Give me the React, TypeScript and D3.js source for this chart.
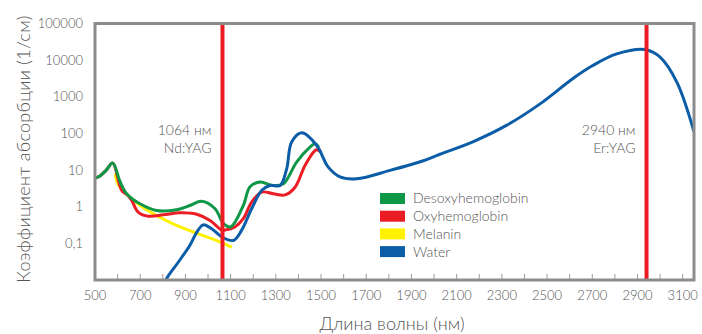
import React from "react";
import * as d3 from "d3";

// wavelengths (nm) and absorption coefficients (1/cm)
const waterNm = [800, 817, 869, 920, 950, 979, 1016, 1061, 1112, 1149, 1193, 1238, 1274, 1319, 1348, 1370, 1415, 1481, 1532, 1584, 1658, 1805, 1953, 2026, 2174, 2322, 2469, 2616, 2700, 2808, 2934, 3000, 3074, 3150];
const waterVal = [0.006, 0.011, 0.031, 0.089, 0.2, 0.32, 0.25, 0.15, 0.12, 0.23, 0.88, 2.8, 3.8, 3.8, 10.8, 58, 104, 47, 12, 6.5, 5.8, 9.8, 18, 27, 60, 168, 640, 3200, 7000, 14800, 19400, 12000, 2500, 110];

const desoxyNm = [500, 520, 550, 578, 611, 640, 699, 773, 861, 920, 972, 1031, 1068, 1100, 1156, 1186, 1230, 1289, 1333, 1392, 1451, 1473, 1490];
const desoxyVal = [6, 6.8, 10, 15.5, 4.8, 2.26, 1.2, 0.79, 0.83, 1.08, 1.4, 0.88, 0.35, 0.28, 1.08, 3.5, 4.7, 3.8, 4.2, 16.5, 42, 52, 42];

const oxyNm = [500, 520, 550, 578, 618, 647, 662, 692, 736, 802, 876, 950, 1009, 1061, 1075, 1119, 1156, 1193, 1238, 1289, 1341, 1385, 1429, 1473, 1481, 1500];
const oxyVal = [6, 6.8, 10, 15.5, 2.8, 2.0, 1.5, 0.7, 0.55, 0.6, 0.68, 0.62, 0.42, 0.23, 0.23, 0.28, 0.47, 1.34, 2.5, 2.26, 2.1, 3.4, 13.4, 34, 36, 31];

const melaninNm = [590, 603, 699, 846, 1053, 1105];
const melaninVal = [8, 4.0, 1.1, 0.34, 0.11, 0.078];

const laserNm = [1064, 2940];
const laserLabels = [["1064 нм", "Nd:YAG"], ["2940 нм", "Er:YAG"]];

const legendNames = ["Desoxyhemoglobin", "Oxyhemoglobin", "Melanin", "Water"];
const legendColors = ["#0f9748", "#ec1c24", "#fff200", "#0c5da8"];

const yTicks = [100000, 10000, 1000, 100, 10, 1, 0.1];
const yTickLabels = ["100000", "10000", "1000", "100", "10", "1", "0,1"];
const xTickLabels = [500, 700, 900, 1100, 1300, 1500, 1700, 1900, 2100, 2300, 2500, 2700, 2900, 3100];

class AbsorptionChart extends React.Component {
  componentDidMount() {
    this.createChart();
  }

  createChart() {
    var width = 702,
      height = 334;
    var left = 95,
      right = 694,
      top = 23.5,
      bottom = 280;
    var font = "Lato, 'Open Sans', sans-serif";
    var textColor = "#555";

    d3.select("#absorptionChart").selectAll("*").remove();

    var svg = d3
      .select("#absorptionChart")
      .append("svg")
      .attr("width", width)
      .attr("height", height)
      .style("display", "block")
      .style("font-family", font);

    var x = d3.scaleLinear().domain([500, 3150]).range([left, right]);
    var y = d3.scaleLog().domain([0.01, 100000]).range([bottom, top]);

    svg
      .append("clipPath")
      .attr("id", "plotClip")
      .append("rect")
      .attr("x", left)
      .attr("y", top)
      .attr("width", right - left)
      .attr("height", bottom - top);

    // small ticks on the bottom edge every 100 nm
    var minorTicks = d3.range(600, 3101, 100);
    svg
      .selectAll("minorTicks")
      .data(minorTicks)
      .enter()
      .append("line")
      .attr("x1", (d: any) => x(d))
      .attr("x2", (d: any) => x(d))
      .attr("y1", bottom)
      .attr("y2", bottom - 6)
      .attr("stroke", "#9a9a9a")
      .attr("stroke-width", 1);

    // x tick labels
    svg
      .selectAll("xLabels")
      .data(xTickLabels)
      .enter()
      .append("text")
      .attr("x", (d: any) => x(d))
      .attr("y", 300)
      .attr("text-anchor", "middle")
      .attr("fill", textColor)
      .style("font-size", "13px")
      .style("font-weight", 300)
      .text((d: any) => d);

    // y tick labels
    svg
      .selectAll("yLabels")
      .data(yTicks)
      .enter()
      .append("text")
      .attr("x", 83)
      .attr("y", (d: any) => y(d))
      .attr("dy", "0.35em")
      .attr("text-anchor", "end")
      .attr("fill", textColor)
      .style("font-size", "13px")
      .style("font-weight", 300)
      .text((d: any, i: number) => yTickLabels[i]);

    var line = d3
      .line()
      .x((d: any) => x(d[0]))
      .y((d: any) => y(d[1]))
      .curve(d3.curveCatmullRom.alpha(0.5));

    var series = [
      { nm: melaninNm, val: melaninVal, color: legendColors[2] },
      { nm: oxyNm, val: oxyVal, color: legendColors[1] },
      { nm: desoxyNm, val: desoxyVal, color: legendColors[0] },
      { nm: waterNm, val: waterVal, color: legendColors[3] },
    ];

    var plot = svg.append("g").attr("clip-path", "url(#plotClip)");
    series.forEach(function (s) {
      var pts = s.nm.map((n, i) => [n, s.val[i]]);
      plot
        .append("path")
        .attr("d", line(pts as any) as any)
        .attr("fill", "none")
        .attr("stroke", s.color)
        .attr("stroke-width", 3)
        .attr("stroke-linejoin", "round");
    });

    // laser lines
    svg
      .selectAll("laserLines")
      .data(laserNm)
      .enter()
      .append("line")
      .attr("x1", (d: any) => x(d))
      .attr("x2", (d: any) => x(d))
      .attr("y1", top)
      .attr("y2", bottom)
      .attr("stroke", "#ec1c24")
      .attr("stroke-width", 4);

    laserNm.forEach(function (n, i) {
      var t = svg
        .append("text")
        .attr("x", x(n) - 11)
        .attr("y", 135)
        .attr("text-anchor", "end")
        .attr("fill", textColor)
        .style("font-size", "14px")
        .style("font-weight", 300);
      t.append("tspan").attr("x", x(n) - 11).text(laserLabels[i][0]);
      t.append("tspan").attr("x", x(n) - 11).attr("dy", 18).text(laserLabels[i][1]);
    });

    // frame
    svg
      .append("rect")
      .attr("x", left)
      .attr("y", top)
      .attr("width", right - left)
      .attr("height", bottom - top)
      .attr("fill", "none")
      .attr("stroke", "#8c8c8c")
      .attr("stroke-width", 3);

    // legend
    var legend = svg.append("g").attr("transform", "translate(380,193)");
    legendNames.forEach(function (name, i) {
      legend
        .append("rect")
        .attr("x", 0)
        .attr("y", i * 17.7)
        .attr("width", 25)
        .attr("height", 11)
        .attr("fill", legendColors[i]);
      legend
        .append("text")
        .attr("x", 33)
        .attr("y", i * 17.7 + 5.5)
        .attr("dy", "0.35em")
        .attr("fill", textColor)
        .style("font-size", "14px")
        .style("font-weight", 300)
        .text(name);
    });

    // axis titles
    svg
      .append("text")
      .attr("transform", "translate(30," + 149 + ") rotate(-90)")
      .attr("text-anchor", "middle")
      .attr("fill", textColor)
      .style("font-size", "18px")
      .style("font-weight", 300)
      .style("letter-spacing", "0.3px")
      .text("Коэффициент абсорбции (1/см)");

    svg
      .append("text")
      .attr("x", 392)
      .attr("y", 330)
      .attr("text-anchor", "middle")
      .attr("fill", textColor)
      .style("font-size", "18px")
      .style("font-weight", 300)
      .text("Длина волны (нм)");
  }

  render() {
    return (
      <div
        id="absorptionChart"
        style={{ position: "absolute", left: 0, top: 0, background: "#fff" }}
      ></div>
    );
  }
}

export default function App() {
  return <AbsorptionChart />;
}
